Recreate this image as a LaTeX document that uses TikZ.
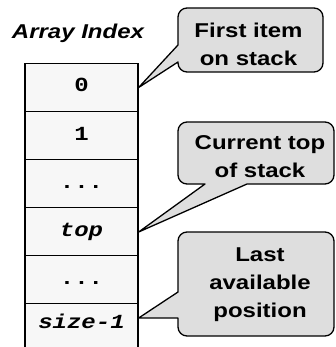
\documentclass[tikz,border=0pt]{standalone}
\usepackage{fontspec}
\newfontfamily\labfont[FakeStretch=1.2]{Liberation Sans}
\newfontfamily\cellfont[FakeStretch=1.2]{Liberation Mono}
\definecolor{callfill}{HTML}{DEDEDE}
\definecolor{cellfill}{HTML}{F7F7F7}
\begin{document}
\begin{tikzpicture}[x=1pt,y=-1pt,
  cell/.style={draw, line width=1.3pt, fill=cellfill, minimum width=113pt,
    minimum height=48.5pt, inner sep=0pt,
    font=\cellfont\bfseries\fontsize{20}{24}\selectfont,
    text height=8.6pt, text depth=0pt},
  callout/.style={draw, line width=1.3pt, fill=callfill, line join=round},
  calltext/.style={font=\labfont\bfseries\fontsize{20}{28}\selectfont,
    align=center, inner sep=0pt},
  titletext/.style={font=\labfont\bfseries\itshape\fontsize{20}{24}\selectfont,
    inner sep=0pt, anchor=base}
]
\useasboundingbox (0,0) rectangle (335,347);

\node[titletext] (title) at (78,39) {Array Index};

\node[cell] (c0) at (81.5,87.5) {0};
\node[cell] (c1) at (81.5,136) {1};
\node[cell] (c2) at (81.5,184) {...};
\node[cell] (c3) at (81.5,232) {\itshape top};
\node[cell] (c4) at (81.5,280) {...};
\node[cell, text height=4pt, text depth=4pt] (c5) at (81.5,328) {\itshape size-1};

\draw[callout] (c0.east) -- (178,45) [rounded corners=9pt] -- (178,8) -- (323,8)
  -- (323,72) -- (178,72) [sharp corners] -- (178,62) -- cycle;
\draw[callout] (c3.east) -- (205,184) [rounded corners=9pt] -- (178,184) -- (178,122)
  -- (334,122) -- (334,184) [sharp corners] -- (247,184) -- cycle;
\draw[callout] ([yshift=10pt]c5.east) -- (178,292) [rounded corners=9pt] -- (178,232)
  -- (334,232) -- (334,336) -- (178,336) [sharp corners] -- (178,318) -- cycle;

\node[calltext] (t1) at (248.5,44) {First item\\on stack};
\node[calltext] (t2) at (260,157) {Current top\\of stack};
\node[calltext] (t3) at (260,285) {Last\\available\\position};
\end{tikzpicture}
\end{document}
